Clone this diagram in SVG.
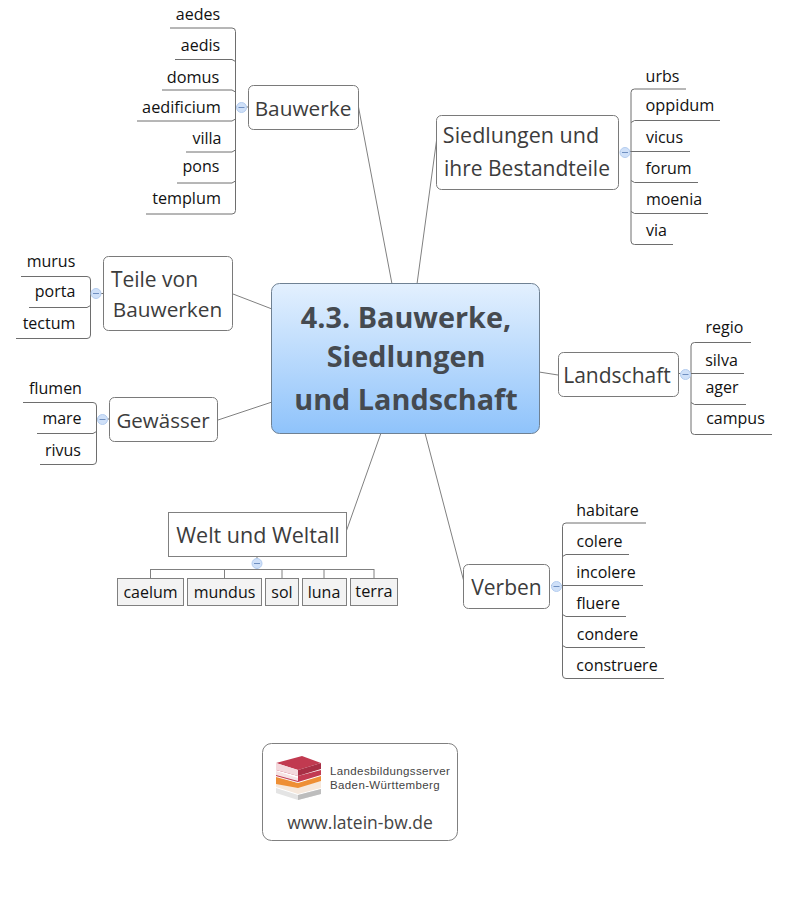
<svg xmlns="http://www.w3.org/2000/svg" width="792" height="905" viewBox="0 0 792 905">
<style>
text{font-family:"Open Sans","Noto Sans","Liberation Sans",sans-serif}
.n{fill:#fff;stroke:#7a7a7a;stroke-width:1}
.t{font-size:21px;fill:#3c3c3c;text-anchor:middle}
.l{font-size:16px;fill:#111;text-anchor:middle}
.c{fill:none;stroke:#808080;stroke-width:1}
.s{fill:none;stroke:#6e6e6e;stroke-width:1}
.o{fill:#cfe0f8;stroke:#b4cdf0;stroke-width:1}
.m{stroke:#6f8fc0;stroke-width:1}
.b{fill:#f3f3f3;stroke:#808080;stroke-width:1}
.lg{font-family:"Liberation Sans",sans-serif;font-size:11.500px;letter-spacing:.38px;fill:#444}
</style>
<defs>
<linearGradient id="g" x1="0" y1="0" x2="0" y2="1"><stop offset="0" stop-color="#e3f0fe"/><stop offset="1" stop-color="#8fc3fb"/></linearGradient>
<g id="tog"><circle class="o" r="5"/><path class="m" d="M-3 0H3"/></g>
</defs>
<g id="connectors">
<path class="c" d="M358.500 107L392 284M437 137L417 284M233 294L272 309M218 420L272 402M346 532L381 433M464 582L425 433M539 372L558 375"/>
<path class="s" d="M170 28H232a3.500 3.500 0 0 1 3.500 3.500V210.500a3.500 3.500 0 0 1 -3.500 3.500H146M175 59.500H232l3.500 2M162 90H232l3.500 2M137 121H232l3.500 -2M186 152H232l3.500 -2M177 183H232l3.500 -2M235.500 107H248"/>
<path class="s" d="M21 276.500H87a3.500 3.500 0 0 1 3.500 3.500V335a3.500 3.500 0 0 1 -3.500 3.500H16M29 307.500H87l3.500 -2M90.500 293.500H103"/>
<path class="s" d="M23 402.500H93a3.500 3.500 0 0 1 3.500 3.500V461a3.500 3.500 0 0 1 -3.500 3.500H40M37 433.500H93l3.500 -2M96.500 419H109"/>
<path class="s" d="M686 89H634.500a3.500 3.500 0 0 0 -3.500 3.500V241a3.500 3.500 0 0 0 3.500 3.500H673M720 120.500H634.500l-3.500 2M690 151.500H620M698 182.500H634.500l-3.500 -2M708 213.500H634.500l-3.500 -2"/>
<path class="s" d="M751 342.500H694.500a3.500 3.500 0 0 0 -3.500 3.500V431a3.500 3.500 0 0 0 3.500 3.500H772M744 373.500H679M746 404.500H694.500l-3.500 -2"/>
<path class="s" d="M646 523H566a3.500 3.500 0 0 0 -3.500 3.500V675a3.500 3.500 0 0 0 3.500 3.500H664M629 554.500H566l-3.500 2M643 585.500H551M626 616.500H566l-3.500 -2M645 647.500H566l-3.500 -2"/>
<path class="c" d="M257 556V569M150.500 569.500H374M150.500 569V578M224.500 569V578M282 569V578M324 569V578M374 569V578"/>
</g>
<g id="central">
<rect x="271.500" y="283.500" width="268" height="150" rx="8" fill="url(#g)" stroke="#6f8193"/>
<g font-size="28.800" font-weight="700" fill="#454a50" text-anchor="middle">
<text x="406" y="328">4.3. Bauwerke,</text>
<text x="406" y="367">Siedlungen</text>
<text x="406" y="410">und Landschaft</text>
</g>
</g>
<g id="bauwerke">
<rect class="n" x="248.500" y="85.500" width="110" height="44" rx="5"/>
<text class="t" x="303" y="115.500" style="font-size:20.800px">Bauwerke</text>
<use href="#tog" x="241.500" y="107.500"/>
<text class="l" x="198" y="20">aedes</text>
<text class="l" x="200.500" y="51">aedis</text>
<text class="l" x="193" y="82.500" style="font-size:16.300px">domus</text>
<text class="l" x="181.500" y="113" style="font-size:16.300px">aedificium</text>
<text class="l" x="207" y="144">villa</text>
<text class="l" x="201" y="172">pons</text>
<text class="l" x="186.500" y="204" style="font-size:16.200px">templum</text>
</g>
<g id="siedlungen">
<rect class="n" x="436.500" y="115.500" width="182" height="74" rx="5"/>
<text class="t" x="521" y="143" style="font-size:21.500px">Siedlungen und</text>
<text class="t" x="527" y="176">ihre Bestandteile</text>
<use href="#tog" x="625" y="152.500"/>
<text class="l" x="662.500" y="81.500">urbs</text>
<text class="l" x="680" y="111" style="font-size:16.300px">oppidum</text>
<text class="l" x="664.500" y="143">vicus</text>
<text class="l" x="668.500" y="174">forum</text>
<text class="l" x="674" y="205">moenia</text>
<text class="l" x="656.500" y="236">via</text>
</g>
<g id="teile">
<rect class="n" x="103.500" y="256.500" width="129" height="74" rx="5"/>
<text class="t" x="154.500" y="287">Teile von</text>
<text class="t" x="167.500" y="316.500" style="font-size:20.800px">Bauwerken</text>
<use href="#tog" x="96" y="293.500"/>
<text class="l" x="51" y="266.500">murus</text>
<text class="l" x="55" y="297">porta</text>
<text class="l" x="49" y="329">tectum</text>
</g>
<g id="gewaesser">
<rect class="n" x="109.500" y="397.500" width="108" height="44" rx="5"/>
<text class="t" x="163" y="427.500" style="font-size:20.500px">Gewässer</text>
<use href="#tog" x="102.500" y="419.500"/>
<text class="l" x="55.500" y="394">flumen</text>
<text class="l" x="62" y="424">mare</text>
<text class="l" x="63" y="456">rivus</text>
</g>
<g id="landschaft">
<rect class="n" x="558.500" y="352.500" width="120" height="44" rx="5"/>
<text class="t" x="617" y="383">Landschaft</text>
<use href="#tog" x="685.500" y="374.500"/>
<text class="l" x="724.500" y="333">regio</text>
<text class="l" x="721.500" y="366">silva</text>
<text class="l" x="722" y="393">ager</text>
<text class="l" x="735.500" y="424">campus</text>
</g>
<g id="welt">
<rect x="168.500" y="512.500" width="178" height="44" fill="#fff" stroke="#808080"/>
<text class="t" x="258" y="543" style="font-size:21.500px">Welt und Weltall</text>
<use href="#tog" x="257" y="563.500"/>
<rect class="b" x="117.500" y="578.500" width="66" height="27"/><text class="l" x="150.500" y="598">caelum</text>
<rect class="b" x="187.500" y="578.500" width="74" height="27"/><text class="l" x="224.500" y="598">mundus</text>
<rect class="b" x="265.500" y="578.500" width="33" height="27"/><text class="l" x="282" y="598">sol</text>
<rect class="b" x="302.500" y="578.500" width="44" height="27"/><text class="l" x="324" y="598">luna</text>
<rect class="b" x="350.500" y="578.500" width="47" height="27"/><text class="l" x="374" y="597" style="font-size:16.300px">terra</text>
</g>
<g id="verben">
<rect class="n" x="463.500" y="564.500" width="86" height="44" rx="5"/>
<text class="t" x="506.500" y="595">Verben</text>
<use href="#tog" x="556.500" y="586.500"/>
<text class="l" x="607.500" y="515.500">habitare</text>
<text class="l" x="599.500" y="546.500">colere</text>
<text class="l" x="606" y="577.500">incolere</text>
<text class="l" x="598" y="608.500">fluere</text>
<text class="l" x="607.500" y="639.500">condere</text>
<text class="l" x="617" y="670.500">construere</text>
</g>
<g id="logo">
<rect x="262.500" y="743.500" width="195" height="97" rx="9" fill="#fff" stroke="#808080"/>
<path d="M276 788l22 7 23-6v5l-23 6-22-7z" fill="#e4e4e4"/>
<path d="M298 795l23-6v5l-23 6z" fill="#bdbdbd"/>
<path d="M276 780l22 7 23-6v7l-23 6-22-7z" fill="#f6e8dc"/>
<path d="M276 784l22 4 23-7v-5l-23 7-22-6z" fill="#ee8f35"/>
<path d="M276 771l22 7v5l-22-7z" fill="#f5e3e5"/>
<path d="M276 770l22 6 23-6v5l-23 7-22-6v-1l22 6 0-6-22-6z" fill="#c23a52"/>
<path d="M276 763l26-7 19 7-23 7z" fill="#c13a50"/>
<path d="M298 770l23-7v6l-23 7z" fill="#a82f45"/>
<path d="M276 763l22 7v6l-22-6z" fill="#f3d9dd"/>
<text class="lg" x="330" y="775">Landesbildungsserver</text>
<text class="lg" x="330" y="788.500">Baden-Württemberg</text>
<text x="360" y="828.500" font-size="17.500" fill="#444" text-anchor="middle">www.latein-bw.de</text>
</g>
</svg>
